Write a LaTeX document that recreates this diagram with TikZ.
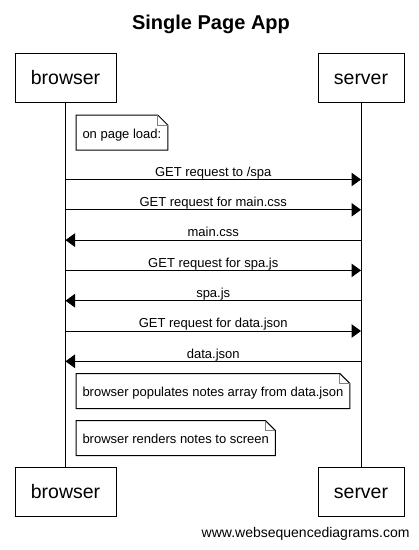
\documentclass[tikz,border=0pt]{standalone}
\usepackage{fontspec}
\setmainfont{Liberation Sans}
\usetikzlibrary{arrows.meta, positioning, calc}

\begin{document}
\begin{tikzpicture}[x=1pt, y=-1pt, line width=1pt,
  actor/.style={draw, fill=white, minimum height=49pt, inner sep=0pt,
    text height=14pt, text depth=0pt, font=\fontsize{19.5}{23}\selectfont},
  msg/.style={-{Triangle[length=9.5pt, width=13.5pt]}},
  msgtext/.style={anchor=base, yshift=3.3pt, font=\fontsize{13}{15}\selectfont},
  note/.style={anchor=north west, minimum height=34pt, inner xsep=6pt, inner ysep=0pt,
    text height=11pt, text depth=0pt, font=\fontsize{13}{15}\selectfont},
  fold/.style={draw=gray}]
  \useasboundingbox (0,0) rectangle (419,550);

  \node[anchor=base, font=\bfseries\fontsize{20}{24}\selectfont] (title) at (211,29.5) {Single Page App};

  % participants
  \node[actor, minimum width=101pt] (browser-top) at (65.5,77.5) {browser};
  \node[actor, minimum width=86pt] (server-top) at (361,77.5) {server};
  \node[actor, minimum width=101pt] (browser-bot) at (65.5,491.5) {browser};
  \node[actor, minimum width=86pt] (server-bot) at (361,491.5) {server};
  \draw (browser-top) -- (browser-bot);
  \draw (server-top) -- (server-bot);

  % messages
  \foreach \y/\from/\to/\txt [count=\i] in {
      179.5/b/s/{GET request to /spa},
      209.8/b/s/{GET request for main.css},
      240.1/s/b/{main.css},
      270.4/b/s/{GET request for spa.js},
      300.7/s/b/{spa.js},
      331/b/s/{GET request for data.json},
      361.3/s/b/{data.json}} {
    \coordinate (b\i) at (browser-top |- 0,\y);
    \coordinate (s\i) at (server-top |- 0,\y);
    \draw[msg] (\from\i) -- (\to\i) node[midway, msgtext] {\txt};
  }

  % notes
  \node[note] (load) at (76,115) {on page load:};
  \node[note] (populate) at (76,373.5) {browser populates notes array from data.json};
  \node[note] (render) at (76,420.5) {browser renders notes to screen};
  \foreach \nt in {load, populate, render} {
    \draw (\nt.south west) -- (\nt.north west) -- ([xshift=-10pt]\nt.north east)
      -- ([yshift=-10pt]\nt.north east) -- (\nt.south east) -- cycle;
    \draw[fold] ([xshift=-10pt]\nt.north east) |- ([yshift=-10pt]\nt.north east);
  }

  \node[anchor=base east, inner sep=0pt, font=\fontsize{14}{16}\selectfont] (footer) at (410,537.3) {www.websequencediagrams.com};
\end{tikzpicture}
\end{document}
